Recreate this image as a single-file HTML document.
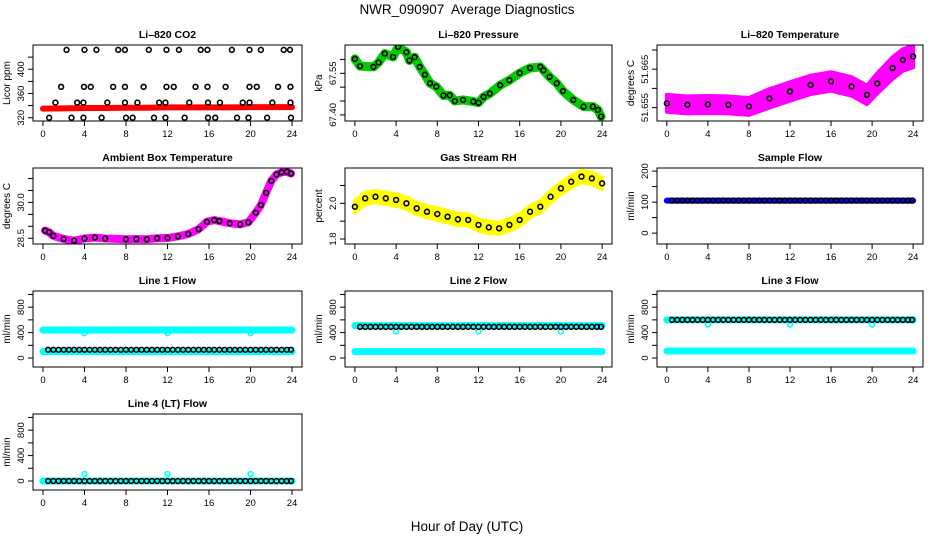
<!DOCTYPE html>
<html><head><meta charset="utf-8"><style>
html,body{margin:0;padding:0;background:#fff;}
svg{display:block;font-family:"Liberation Sans",Arial,sans-serif;}
</style></head><body>
<svg id="chart" width="936" height="540" viewBox="0 0 936 540" xmlns="http://www.w3.org/2000/svg">
<text x="467" y="14" text-anchor="middle" font-size="13.5">NWR_090907&#160; Average Diagnostics</text>
<text x="467" y="531" text-anchor="middle" font-size="13.5">Hour of Day (UTC)</text>
</svg>
<script>
// ---------- data ----------
const xTicks = [0,4,8,12,16,20,24];
const obsHours = [0.5,1,1.5,2,2.5,3,3.5,4,4.5,5,5.5,6,6.5,7,7.5,8,8.5,9,9.5,10,10.5,11,11.5,12,12.5,13,13.5,14,14.5,15,15.5,16,16.5,17,17.5,18,18.5,19,19.5,20,20.5,21,21.5,22,22.5,23,23.5,23.9];

// CO2
const co2RedHours = [0,2,4,6,8,10,12,14,16,18,20,22,24];
const co2Red = [335,335.5,336,336,336.5,336.5,337,337,337,337,337.5,337.5,337.5];
const co2BlackHours = [2.27,4.0,5.15,7.25,7.9,10.2,11.9,13.1,15.2,15.85,18.2,19.9,21.0,23.2,23.8,
 1.75,3.95,4.6,6.76,7.9,9.7,11.9,12.6,14.7,15.85,17.6,19.9,20.6,22.65,23.85,
 1.2,3.3,3.9,6.2,7.9,9.1,11.2,11.8,14.1,15.9,17.05,19.25,19.9,22.1,23.85,
 0.6,2.75,3.9,5.65,8.0,8.64,10.7,11.8,13.65,15.9,16.6,18.7,19.8,21.6,23.9];
const co2Black = [432,432,432,432,432,432,432,432,432,432,432,432,432,432,432,
 371,371,371,371,371,371,371,371,371,371,371,371,371,371,371,
 345,345,345,345,345,345,345,345,345,345,345,345,345,345,345,
 320,320,320,320,320,320,320,320,320,320,320,320,320,320,320];

// Pressure
const presHours = [0,0.5,1.8,2.3,2.9,3.7,4.2,5.0,5.3,5.8,6.3,6.8,7.3,7.9,8.6,9.2,9.7,10.5,11.5,12.0,12.5,13.1,14.1,15.0,16.0,17.0,18.0,18.3,18.9,19.6,20.2,21.2,22.2,23.1,23.6,23.9];
const pres = [67.602,67.576,67.573,67.589,67.621,67.609,67.645,67.626,67.596,67.608,67.573,67.545,67.514,67.502,67.470,67.471,67.450,67.454,67.448,67.444,67.465,67.477,67.507,67.525,67.551,67.569,67.573,67.561,67.537,67.514,67.486,67.454,67.430,67.430,67.418,67.394];

// Li-820 temperature
const tempHours = [0,2,4,6,8,10,12,14,16,18,19.5,20.5,22,23,24];
const temp = [51.6561,51.6557,51.6558,51.6557,51.6553,51.6574,51.6592,51.6609,51.6618,51.6605,51.6583,51.6613,51.6653,51.6674,51.6683];
const tempSpread = [0.0022,0.0022,0.0022,0.0022,0.0022,0.0024,0.0024,0.0024,0.0024,0.0024,0.0024,0.0026,0.0028,0.0028,0.0028];

// Ambient box temperature
const boxHours = [0.2,0.6,1,2,3,4,5,6,8,9,10,11,12,13,14,15,15.8,16.5,17,18,19,19.8,20.5,21,21.5,22,22.5,23,23.5,23.9];
const boxTemp = [28.82,28.75,28.60,28.47,28.40,28.49,28.53,28.49,28.46,28.47,28.46,28.50,28.51,28.58,28.68,28.88,29.19,29.26,29.22,29.13,29.08,29.17,29.57,29.89,30.40,30.90,31.17,31.26,31.28,31.21];

// Gas stream RH
const rhHours = [0,1,2,3,4,5,6,7,8,9,10,11,12,13,14,15,16,17,18,19,20,21,22,23,24];
const rh = [1.981,2.028,2.037,2.028,2.019,2.0,1.972,1.953,1.940,1.925,1.910,1.907,1.879,1.865,1.860,1.879,1.907,1.953,1.981,2.037,2.084,2.121,2.150,2.140,2.112];

// Sample flow
const sampleFlow = 105;
// Line flows
const dipHours = [4,12,20];
const line1 = {upper:440, black:130, lower:100, dip:390};
const line2 = {upper:510, black:490, lower:100, dip:420};
const line3 = {upper:600, black:600, lower:110, dip:525};
const line4 = {upper:0, black:0, lower:0, dip:110};

// ---------- drawing ----------
const svg = document.getElementById('chart');
const NS = 'http://www.w3.org/2000/svg';
const cols = [[33,302],[345,612],[657,923]];
const rows = [[45,121],[168,244],[291,367],[414,490]];
function mk(tag, attrs, parent){
  const e = document.createElementNS(NS, tag);
  for (const k in attrs) e.setAttribute(k, attrs[k]);
  (parent||svg).appendChild(e);
  return e;
}
function panel(name, title, col, row, yTop, yBot, ticks, labels, ytitle){
  const [l,r] = cols[col], [t,b] = rows[row];
  const g = mk('g', {});
  
  
  const xs = h => l + (h + 0.96) / 25.92 * (r - l);
  const ys = v => t + (yTop - v) / (yTop - yBot) * (b - t);
  const clipId = 'clip-' + name;
  const cp = mk('clipPath', {id: clipId}, g);
  mk('rect', {x:l, y:t, width:r-l, height:b-t}, cp);
  const plot = mk('g', {'clip-path':'url(#'+clipId+')'}, g);
  
  
  const frame = mk('rect', {x:l, y:t, width:r-l, height:b-t, fill:'none', stroke:'#000', 'stroke-width':1}, g);
  
  
  const tt = mk('text', {x:(l+r)/2, y:t-7, 'text-anchor':'middle', 'font-size':10.5, 'font-weight':'bold'}, g);
  tt.textContent = title;
  
  
  xTicks.forEach(h => {
    mk('line', {x1:xs(h), x2:xs(h), y1:b, y2:b+5, stroke:'#000'}, g);
    const tx = mk('text', {x:xs(h), y:b+16, 'text-anchor':'middle', 'font-size':9.5}, g);
    tx.textContent = h;
    
    
  });
  ticks.forEach((v,i) => {
    mk('line', {x1:l-5, x2:l, y1:ys(v), y2:ys(v), stroke:'#000'}, g);
    if (labels[i] !== '') {
      const ty = mk('text', {x:0, y:0, 'text-anchor':'middle', 'font-size':9.5, transform:'translate('+(l-9)+','+ys(v)+') rotate(-90)'}, g);
      ty.textContent = labels[i];
      
      
    }
  });
  const yt = mk('text', {x:0, y:0, 'text-anchor':'middle', 'font-size':10, transform:'translate('+(l-23)+','+((t+b)/2)+') rotate(-90)'}, g);
  yt.textContent = ytitle;
  
  
  return {xs, ys, plot};
}
function circles(p, hs, vs, color, nm){
  hs.forEach((h,i) => {
    const c = mk('circle', {cx:p.xs(h), cy:p.ys(vs[i]), r:2.4, fill:'none', stroke:color, 'stroke-width':1.6}, p.plot);
    
    
  });
}
function band(p, hs, vs, spread, color, nm){
  let pts = hs.map((h,i) => p.xs(h)+','+p.ys(vs[i]+spread[i]));
  pts = pts.concat(hs.map((h,i) => p.xs(h)+','+p.ys(vs[i]-spread[i])).reverse());
  const e = mk('polygon', {points:pts.join(' '), fill:color, stroke:color, 'stroke-width':4, 'stroke-linejoin':'round'}, p.plot);
  
  
}
function thickLine(p, hs, vs, color, w, nm){
  const e = mk('polyline', {points:hs.map((h,i)=>p.xs(h)+','+p.ys(vs[i])).join(' '), fill:'none', stroke:color, 'stroke-width':w, 'stroke-linejoin':'round', 'stroke-linecap':'round'}, p.plot);
  
  
}

// Panel 1 CO2
let p = panel('co2','Li\u2013820 CO2',0,0,440,314.6,[320,340,360,380,400,420],['320','','360','','400',''],'Licor ppm');
thickLine(p, co2RedHours, co2Red, '#ff0000', 6, 'co2-raw-series');
circles(p, co2BlackHours, co2Black, '#000', 'co2-average-point');

// Panel 2 pressure
p = panel('pressure','Li\u2013820 Pressure',1,0,67.652,67.378,[67.40,67.45,67.50,67.55,67.60],['67.40','','','67.55',''],'kPa');
thickLine(p, presHours, pres, '#00cc00', 9, 'pressure-raw-series');
circles(p, presHours, pres, '#000', 'pressure-average-point');

// Panel 3 temperature
p = panel('li820-temp','Li\u2013820 Temperature',2,0,51.6713,51.6515,[51.655,51.660,51.665,51.670],['51.655','','51.665',''],'degrees C');
band(p, tempHours, temp, tempSpread, '#ff00ff', 'li820-temp-raw-band');
circles(p, tempHours, temp, '#000', 'li820-temp-average-point');

// Panel 4 ambient box temp
p = panel('box-temp','Ambient Box Temperature',0,1,31.44,28.26,[28.5,29.0,29.5,30.0,30.5,31.0],['28.5','','','30.0','',''],'degrees C');
thickLine(p, boxHours, boxTemp, '#ff00ff', 8, 'box-temp-raw-series');
circles(p, boxHours, boxTemp, '#000', 'box-temp-average-point');

// Panel 5 RH
p = panel('rh','Gas Stream RH',1,1,2.198,1.772,[1.8,1.9,2.0,2.1],['1.8','','2.0',''],'percent');
band(p, rhHours, rh, rh.map(()=>0.032), '#ffff00', 'rh-raw-band');
circles(p, rhHours, rh, '#000', 'rh-average-point');

// Panel 6 sample flow
p = panel('sample-flow','Sample Flow',2,1,210,-35,[0,50,100,150,200],['0','','100','','200'],'ml/min');
thickLine(p, [0,24], [sampleFlow,sampleFlow], '#0000ff', 6, 'sample-flow-raw-series');
circles(p, obsHours, obsHours.map(()=>sampleFlow), '#000', 'sample-flow-average-point');

// Line flows
function flowPanel(name, title, col, row, d){
  const q = panel(name, title, col, row, 1054, -141, [0,200,400,600,800,1000], ['0','','400','','800',''], 'ml/min');
  thickLine(q, [0,24], [d.upper,d.upper], '#00ffff', 7, name+'-upper-raw-series');
  thickLine(q, [0,24], [d.lower,d.lower], '#00ffff', 7, name+'-lower-raw-series');
  circles(q, dipHours, dipHours.map(()=>d.dip), '#00ffff', name+'-dip-point');
  circles(q, obsHours, obsHours.map(()=>d.black), '#000', name+'-average-point');
}
flowPanel('line1-flow','Line 1 Flow',0,2,line1);
flowPanel('line2-flow','Line 2 Flow',1,2,line2);
flowPanel('line3-flow','Line 3 Flow',2,2,line3);
flowPanel('line4-flow','Line 4 (LT) Flow',0,3,line4);
</script>
</body></html>
